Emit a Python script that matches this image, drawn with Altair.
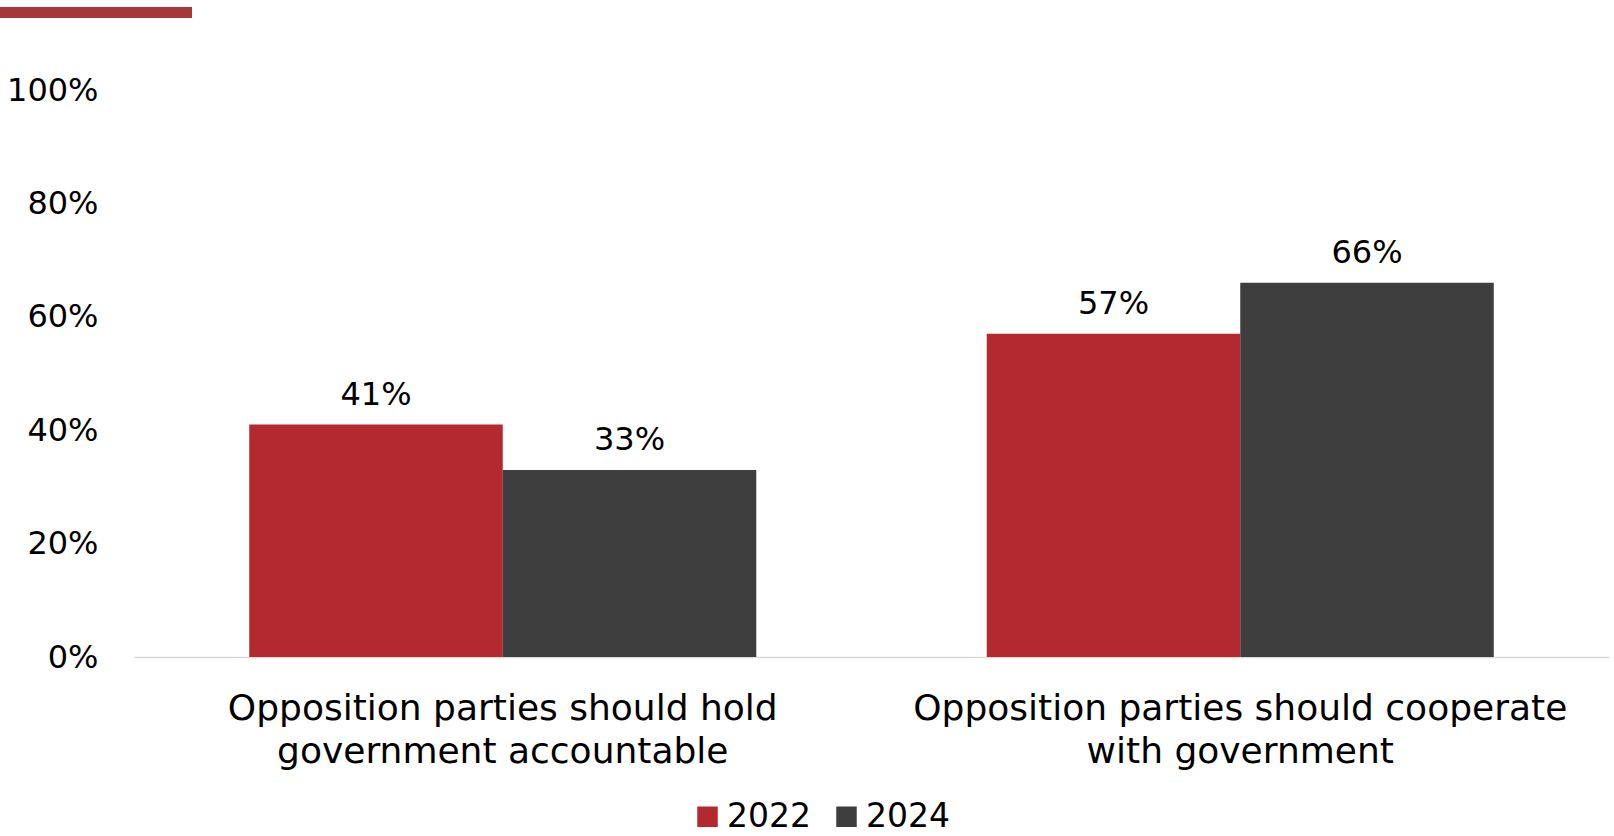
import altair as alt
import pandas as pd

categories = ["Opposition parties should hold|government accountable",
              "Opposition parties should cooperate|with government"]
years = ["2022", "2024"]
values_2022 = [0.41, 0.57]
values_2024 = [0.33, 0.66]
colors = ["#B3292F", "#3E3E3E"]

rows = []
for i, c in enumerate(categories):
    rows.append({"category": c, "year": "2022", "value": values_2022[i]})
    rows.append({"category": c, "year": "2024", "value": values_2024[i]})
df = pd.DataFrame(rows)

FONT = "DejaVu Sans"
FS = 32

x = alt.X("category:N", sort=categories, title=None,
          scale=alt.Scale(paddingInner=0.3125, paddingOuter=0.15625),
          axis=alt.Axis(labelAngle=0, labelExpr="split(datum.label, '|')",
                        labelFontSize=36, labelColor="#000000", labelFont=FONT,
                        labelLineHeight=43, labelPadding=34, ticks=False, labelLimit=0,
                        domainColor="#D9D9D9", domainWidth=1.5, labelBaseline="top"))
y = alt.Y("value:Q", title=None,
          scale=alt.Scale(domain=[0, 1], nice=False),
          axis=alt.Axis(format=".0%", values=[0, 0.2, 0.4, 0.6, 0.8, 1.0],
                        labelFontSize=FS, labelColor="#000000", labelFont=FONT,
                        labelPadding=36, ticks=False, domain=False, grid=False))

bars = alt.Chart(df).mark_bar().encode(
    x=x, y=y,
    xOffset=alt.XOffset("year:N", sort=years, scale=alt.Scale(paddingInner=0, paddingOuter=0)),
    color=alt.Color("year:N", sort=years,
                    scale=alt.Scale(domain=years, range=colors),
                    legend=alt.Legend(title=None, orient="none", direction="horizontal",
                                      legendX=557, legendY=710, symbolType="square",
                                      symbolSize=420, symbolStrokeWidth=0,
                                      labelFontSize=33, labelFont=FONT, labelColor="#000000",
                                      columnPadding=19, labelOffset=3)),
)

labels = alt.Chart(df).mark_text(baseline="bottom", dy=-13, fontSize=FS, font=FONT,
                                 color="#000000").encode(
    x=alt.X("category:N", sort=categories),
    y="value:Q",
    xOffset=alt.XOffset("year:N", sort=years),
    text=alt.Text("value:Q", format=".0%"),
)

topbar = alt.Chart(pd.DataFrame({"a": [0]})).mark_rule(color="#A83838", strokeWidth=11).encode(
    x=alt.value(-134), x2=alt.value(58), y=alt.value(-77.5))

chart = alt.layer(bars, labels, topbar).properties(
    width=1475, height=567,
    padding={"left": 134, "top": 90, "right": 5, "bottom": 179},
    autosize=alt.AutoSizeParams(type="none"),
    background="#FFFFFF",
).configure_view(strokeWidth=0, stroke=None)

chart.save("out.html", embed_options={"renderer": "svg", "actions": False})
